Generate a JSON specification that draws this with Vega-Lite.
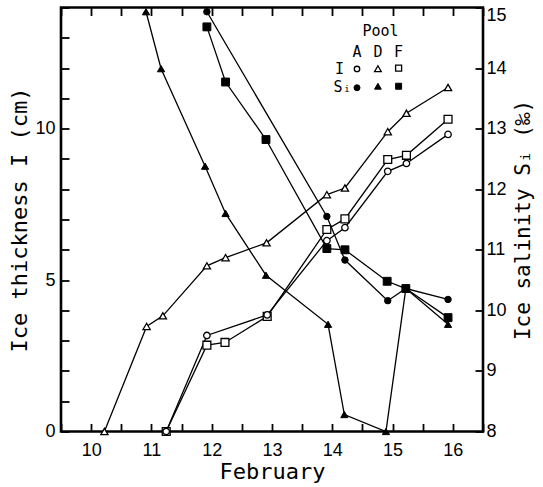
{
  "$schema": "https://vega.github.io/schema/vega-lite/v6.json",
  "width": 422,
  "height": 424,
  "autosize": {"type": "none"},
  "padding": {"left": 61, "top": 7.5, "right": 59.5, "bottom": 55.5},
  "background": "white",
  "config": {
    "view": {"stroke": "black", "strokeWidth": 2.6},
    "axis": {
      "domain": false,
      "grid": false,
      "ticks": true,
      "tickColor": "black",
      "tickWidth": 1.8,
      "tickSize": 8,
      "offset": -8,
      "zindex": 1,
      "labelFont": "Liberation Sans",
      "labelFontSize": 18,
      "labelColor": "black",
      "labelOverlap": false,
      "labelFlush": false,
      "titleFont": "DejaVu Sans Mono",
      "titleFontSize": 22,
      "titleFontWeight": "normal",
      "titleColor": "black"
    }
  },
  "datasets": {
    "ice": [
      {"pool": "F", "var": "I", "day": 11.245, "value": 0},
      {"pool": "F", "var": "I", "day": 11.92, "value": 2.85},
      {"pool": "F", "var": "I", "day": 12.22, "value": 2.94},
      {"pool": "F", "var": "I", "day": 12.92, "value": 3.8},
      {"pool": "F", "var": "I", "day": 13.91, "value": 6.67},
      {"pool": "F", "var": "I", "day": 14.21, "value": 7.02},
      {"pool": "F", "var": "I", "day": 14.92, "value": 8.98},
      {"pool": "F", "var": "I", "day": 15.23, "value": 9.12},
      {"pool": "F", "var": "I", "day": 15.92, "value": 10.31},
      {"pool": "D", "var": "I", "day": 10.22, "value": 0},
      {"pool": "D", "var": "I", "day": 10.92, "value": 3.47},
      {"pool": "D", "var": "I", "day": 11.19, "value": 3.82},
      {"pool": "D", "var": "I", "day": 11.92, "value": 5.47},
      {"pool": "D", "var": "I", "day": 12.23, "value": 5.74},
      {"pool": "D", "var": "I", "day": 12.91, "value": 6.23},
      {"pool": "D", "var": "I", "day": 13.91, "value": 7.82},
      {"pool": "D", "var": "I", "day": 14.21, "value": 8.04},
      {"pool": "D", "var": "I", "day": 14.92, "value": 9.9},
      {"pool": "D", "var": "I", "day": 15.23, "value": 10.51},
      {"pool": "D", "var": "I", "day": 15.92, "value": 11.36},
      {"pool": "A", "var": "I", "day": 11.245, "value": 0},
      {"pool": "A", "var": "I", "day": 11.92, "value": 3.17},
      {"pool": "A", "var": "I", "day": 12.92, "value": 3.85},
      {"pool": "A", "var": "I", "day": 13.91, "value": 6.3},
      {"pool": "A", "var": "I", "day": 14.21, "value": 6.73},
      {"pool": "A", "var": "I", "day": 14.92, "value": 8.59},
      {"pool": "A", "var": "I", "day": 15.23, "value": 8.85},
      {"pool": "A", "var": "I", "day": 15.92, "value": 9.81},
      {"pool": "A", "var": "Si", "day": 11.92, "value": 14.93},
      {"pool": "A", "var": "Si", "day": 13.91, "value": 11.55},
      {"pool": "A", "var": "Si", "day": 14.21, "value": 10.83},
      {"pool": "A", "var": "Si", "day": 14.92, "value": 10.16},
      {"pool": "A", "var": "Si", "day": 15.22, "value": 10.36},
      {"pool": "A", "var": "Si", "day": 15.92, "value": 10.18},
      {"pool": "F", "var": "Si", "day": 11.92, "value": 14.68},
      {"pool": "F", "var": "Si", "day": 12.23, "value": 13.77},
      {"pool": "F", "var": "Si", "day": 12.9, "value": 12.82},
      {"pool": "F", "var": "Si", "day": 13.91, "value": 11.02},
      {"pool": "F", "var": "Si", "day": 14.21, "value": 11.0},
      {"pool": "F", "var": "Si", "day": 14.91, "value": 10.48},
      {"pool": "F", "var": "Si", "day": 15.22, "value": 10.36},
      {"pool": "F", "var": "Si", "day": 15.92, "value": 9.88},
      {"pool": "D", "var": "Si", "day": 10.91, "value": 14.93},
      {"pool": "D", "var": "Si", "day": 11.16, "value": 13.99},
      {"pool": "D", "var": "Si", "day": 11.89, "value": 12.38},
      {"pool": "D", "var": "Si", "day": 12.23, "value": 11.6},
      {"pool": "D", "var": "Si", "day": 12.9, "value": 10.58},
      {"pool": "D", "var": "Si", "day": 13.93, "value": 9.77},
      {"pool": "D", "var": "Si", "day": 14.2, "value": 8.28},
      {"pool": "D", "var": "Si", "day": 14.89, "value": 8.0},
      {"pool": "D", "var": "Si", "day": 15.22, "value": 10.36},
      {"pool": "D", "var": "Si", "day": 15.92, "value": 9.77}
    ]
  },
  "layer": [
    {
      "data": {"name": "ice"},
      "transform": [{"filter": "datum.var === 'I'"}],
      "encoding": {
        "x": {"field": "day", "type": "quantitative", "scale": {"domain": [9.5, 16.5], "nice": false, "zero": false},
          "axis": {"orient": "bottom", "values": [9.5, 10, 10.5, 11, 11.5, 12, 12.5, 13, 13.5, 14, 14.5, 15, 15.5, 16, 16.5],
            "labelExpr": "datum.value % 1 === 0 ? format(datum.value, 'd') : ''", "title": "February", "labelPadding": 10, "titlePadding": 2}},
        "y": {"field": "value", "type": "quantitative", "scale": {"domain": [0, 14], "nice": false, "zero": false},
          "axis": {"orient": "left", "values": [0, 1, 2, 3, 4, 5, 6, 7, 8, 9, 10, 11, 12, 13, 14],
            "labelExpr": "datum.value % 5 === 0 ? format(datum.value, 'd') : ''", "title": "Ice thickness I (cm)", "labelPadding": 6, "titlePadding": 3}}
      },
      "layer": [
        {
          "mark": {"type": "line", "color": "black", "strokeWidth": 1.3},
          "encoding": {"detail": {"field": "pool"}}
        },
        {
          "mark": {"type": "point", "filled": true, "fill": "white", "stroke": "black", "strokeWidth": 1.3, "opacity": 1},
          "encoding": {
            "shape": {"field": "pool", "type": "nominal", "scale": {"domain": ["A", "D", "F"], "range": ["circle", "triangle-up", "square"]}, "legend": null},
            "size": {"field": "pool", "type": "ordinal", "scale": {"domain": ["A", "D", "F"], "range": [42, 62, 44]}, "legend": null}
          }
        }
      ]
    },
    {
      "data": {"name": "ice"},
      "transform": [{"filter": "datum.var === 'Si'"}],
      "encoding": {
        "x": {"field": "day", "type": "quantitative", "scale": {"domain": [9.5, 16.5], "nice": false, "zero": false},
          "axis": {"orient": "top", "values": [9.5, 10, 10.5, 11, 11.5, 12, 12.5, 13, 13.5, 14, 14.5, 15, 15.5, 16, 16.5], "labels": false, "title": null}},
        "y": {"field": "value", "type": "quantitative", "scale": {"domain": [8, 15], "nice": false, "zero": false},
          "axis": {"orient": "right", "values": [8, 9, 10, 11, 12, 13, 14, 15], "format": "d",
            "labelOffset": {"condition": {"test": "datum.value === 15", "value": 8}, "value": 0},
            "title": "Ice salinity Sᵢ (‰)", "titleAngle": -90, "titleBaseline": "top", "titleFontSize": 21, "labelPadding": 3, "titlePadding": 6}}
      },
      "layer": [
        {
          "mark": {"type": "line", "color": "black", "strokeWidth": 1.3},
          "encoding": {"detail": {"field": "pool"}}
        },
        {
          "mark": {"type": "point", "filled": true, "fill": "black", "stroke": "black", "strokeWidth": 1, "opacity": 1},
          "encoding": {
            "shape": {"field": "pool", "type": "nominal", "legend": null},
            "size": {"field": "pool", "type": "ordinal", "legend": null}
          }
        }
      ]
    },
    {
      "data": {"values": [{}]},
      "layer": [
        {
          "mark": {"type": "text", "text": "Pool", "font": "DejaVu Sans Mono", "fontSize": 15, "align": "center", "baseline": "middle", "color": "black"},
          "encoding": {"x": {"datum": 14.8, "type": "quantitative", "scale": {"domain": [9.5, 16.5], "nice": false, "zero": false}, "axis": null},
            "y": {"datum": 13.22, "type": "quantitative", "scale": {"domain": [0, 14], "nice": false, "zero": false}, "axis": null}}
        },
        {
          "mark": {"type": "text", "text": "A", "font": "DejaVu Sans Mono", "fontSize": 15, "align": "center", "baseline": "middle", "color": "black"},
          "encoding": {"x": {"datum": 14.41, "type": "quantitative", "axis": null}, "y": {"datum": 12.53, "type": "quantitative", "axis": null}}
        },
        {
          "mark": {"type": "text", "text": "D", "font": "DejaVu Sans Mono", "fontSize": 15, "align": "center", "baseline": "middle", "color": "black"},
          "encoding": {"x": {"datum": 14.757, "type": "quantitative", "axis": null}, "y": {"datum": 12.53, "type": "quantitative", "axis": null}}
        },
        {
          "mark": {"type": "text", "text": "F", "font": "DejaVu Sans Mono", "fontSize": 15, "align": "center", "baseline": "middle", "color": "black"},
          "encoding": {"x": {"datum": 15.1, "type": "quantitative", "axis": null}, "y": {"datum": 12.53, "type": "quantitative", "axis": null}}
        },
        {
          "mark": {"type": "text", "text": "I", "font": "DejaVu Sans Mono", "fontSize": 15, "align": "center", "baseline": "middle", "color": "black"},
          "encoding": {"x": {"datum": 14.122, "type": "quantitative", "axis": null}, "y": {"datum": 11.98, "type": "quantitative", "axis": null}}
        },
        {
          "mark": {"type": "text", "text": "Sᵢ", "font": "DejaVu Sans Mono", "fontSize": 15, "align": "center", "baseline": "middle", "color": "black"},
          "encoding": {"x": {"datum": 14.17, "type": "quantitative", "axis": null}, "y": {"datum": 11.36, "type": "quantitative", "axis": null}}
        },
        {
          "mark": {"type": "point", "shape": "circle", "size": 30, "filled": true, "fill": "white", "stroke": "black", "strokeWidth": 1.3, "opacity": 1},
          "encoding": {"x": {"datum": 14.41, "type": "quantitative", "axis": null}, "y": {"datum": 11.97, "type": "quantitative", "axis": null}}
        },
        {
          "mark": {"type": "point", "shape": "triangle-up", "size": 45, "filled": true, "fill": "white", "stroke": "black", "strokeWidth": 1.3, "opacity": 1},
          "encoding": {"x": {"datum": 14.757, "type": "quantitative", "axis": null}, "y": {"datum": 11.98, "type": "quantitative", "axis": null}}
        },
        {
          "mark": {"type": "point", "shape": "square", "size": 36, "filled": true, "fill": "white", "stroke": "black", "strokeWidth": 1.3, "opacity": 1},
          "encoding": {"x": {"datum": 15.1, "type": "quantitative", "axis": null}, "y": {"datum": 12.0, "type": "quantitative", "axis": null}}
        },
        {
          "mark": {"type": "point", "shape": "circle", "size": 36, "filled": true, "fill": "black", "stroke": "black", "strokeWidth": 1, "opacity": 1},
          "encoding": {"x": {"datum": 14.41, "type": "quantitative", "axis": null}, "y": {"datum": 11.35, "type": "quantitative", "axis": null}}
        },
        {
          "mark": {"type": "point", "shape": "triangle-up", "size": 45, "filled": true, "fill": "black", "stroke": "black", "strokeWidth": 1, "opacity": 1},
          "encoding": {"x": {"datum": 14.757, "type": "quantitative", "axis": null}, "y": {"datum": 11.4, "type": "quantitative", "axis": null}}
        },
        {
          "mark": {"type": "point", "shape": "square", "size": 36, "filled": true, "fill": "black", "stroke": "black", "strokeWidth": 1, "opacity": 1},
          "encoding": {"x": {"datum": 15.1, "type": "quantitative", "axis": null}, "y": {"datum": 11.4, "type": "quantitative", "axis": null}}
        }
      ]
    }
  ],
  "resolve": {"scale": {"x": "independent", "y": "independent"}}
}
